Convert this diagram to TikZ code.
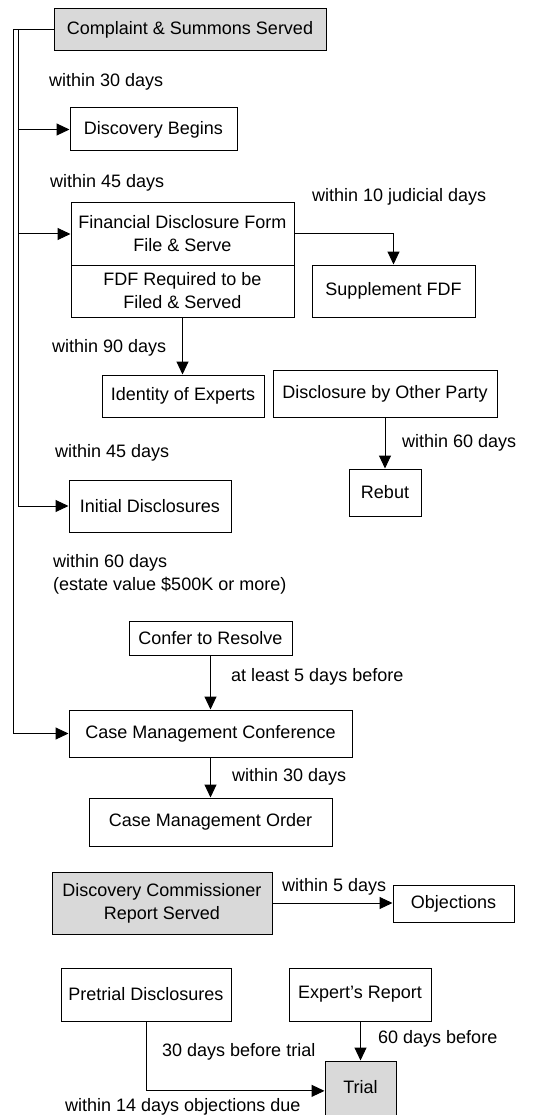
\documentclass[tikz,border=0pt]{standalone}
\usepackage{fontspec}
\setmainfont{Liberation Sans}
\usetikzlibrary{arrows.meta}
\tikzset{
  box/.style={draw=black, line width=1pt, inner sep=0pt, align=center, fill=white},
  gbox/.style={box, fill=black!15},
  lbl/.style={anchor=west, inner sep=0pt, align=left},
  conn/.style={draw=black, line width=1pt},
  arr/.style={conn, -{Triangle[length=13pt,width=12pt]}},
  every node/.style={font=\fontsize{18}{23}\selectfont}
}
\begin{document}
\begin{tikzpicture}[x=1pt,y=-1pt]
\useasboundingbox (0,0) rectangle (536,1115);
% boxes
\node[gbox, minimum width=272, minimum height=42] (cs) at (190,30) {Complaint \& Summons Served};
\node[box, minimum width=167, minimum height=43] (db) at (153.5,129.5) {Discovery Begins};
\node[box, minimum width=223, minimum height=62] (fdf1) at (182.5,234) {Financial Disclosure Form\\File \& Serve};
\node[box, minimum width=223, minimum height=52] (fdf2) at (182.5,291) {FDF Required to be\\Filed \& Served};
\node[box, minimum width=163, minimum height=52] (sup) at (393.5,291) {Supplement FDF};
\node[box, minimum width=162, minimum height=42] (ie) at (183,396) {Identity of Experts};
\node[box, minimum width=224, minimum height=47] (dop) at (385,393.5) {Disclosure by Other Party};
\node[box, minimum width=72, minimum height=47] (rebut) at (385,492.5) {Rebut};
\node[box, minimum width=162, minimum height=52] (id) at (150,506) {Initial Disclosures};
\node[box, minimum width=163, minimum height=34] (cr) at (210.5,638) {Confer to Resolve};
\node[box, minimum width=283, minimum height=47] (cmc) at (210.5,733.5) {Case Management Conference};
\node[box, minimum width=243, minimum height=48] (cmo) at (210.5,822) {Case Management Order};
\node[gbox, minimum width=220, minimum height=62] (dcrs) at (162,903) {Discovery Commissioner\\Report Served};
\node[box, minimum width=121, minimum height=37] (obj) at (453.5,903.5) {Objections};
\node[box, minimum width=170, minimum height=53] (pd) at (146,994.5) {Pretrial Disclosures};
\node[box, minimum width=142, minimum height=53] (er) at (360,994.5) {Expert’s Report};
\node[gbox, minimum width=71, text height=32.5pt, text depth=36.5pt, anchor=base] (trial) at (360.5,1093.5) {Trial};
% left buses
\coordinate (busOut) at (13,30);
\coordinate (busIn) at (18.5,30);
\draw[arr] (cs.west) -- (busOut) |- (cmc.west);
\draw[arr] (busIn) |- (id.west);
\draw[arr] (busIn |- db.west) -- (db.west);
\draw[arr] (busIn |- fdf1.west) -- (fdf1.west);
% other connectors
\draw[arr] (fdf1.east) -| (sup.north);
\draw[arr] (fdf2.south) -- (fdf2.south |- ie.north);
\draw[arr] (dop.south) -- (rebut.north);
\draw[arr] (cr.south) -- (cmc.north);
\draw[arr] (cmc.south) -- (cmo.north);
\draw[arr] (dcrs.east) -- (dcrs.east -| obj.west);
\draw[arr] (pd.south) |- (trial.mid west);
\draw[arr] (er.south) -- (er.south -| trial.north) -- (trial.north);
% labels
\node[lbl] (l1) at (49,82) {within 30 days};
\node[lbl] (l2) at (50,183) {within 45 days};
\node[lbl] (l3) at (312,197) {within 10 judicial days};
\node[lbl] (l4) at (52,348) {within 90 days};
\node[lbl] (l5) at (402,443) {within 60 days};
\node[lbl] (l6) at (55,453) {within 45 days};
\node[lbl] (l7) at (53,574) {within 60 days\\(estate value \$500K or more)};
\node[lbl] (l8) at (231,677) {at least 5 days before};
\node[lbl] (l9) at (232,777) {within 30 days};
\node[lbl] (l10) at (282,887) {within 5 days};
\node[lbl] (l11) at (378,1039) {60 days before};
\node[lbl] (l12) at (162,1052) {30 days before trial};
\node[lbl] (l13) at (65,1107) {within 14 days objections due};
\end{tikzpicture}
\end{document}
